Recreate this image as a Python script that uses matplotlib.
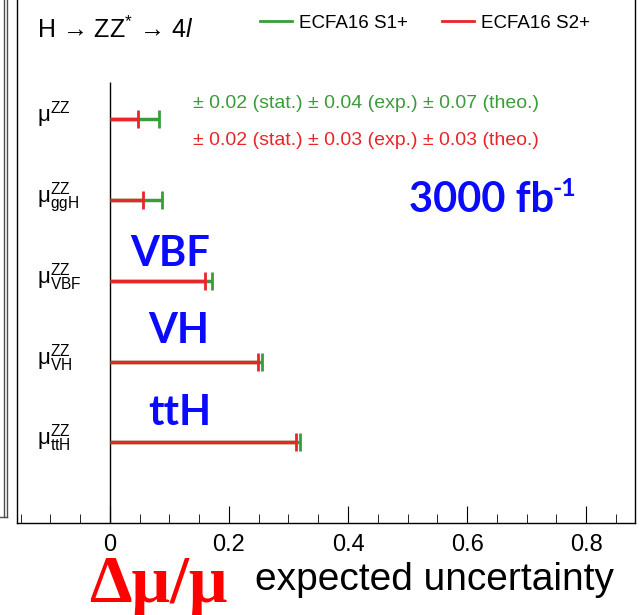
import numpy as np
import matplotlib
matplotlib.use('Agg')
from matplotlib import pyplot as plt
from matplotlib.lines import Line2D
from matplotlib.ticker import MultipleLocator

plt.rcParams['font.family'] = ['Liberation Sans', 'DejaVu Sans']
plt.rcParams['mathtext.fontset'] = 'custom'
plt.rcParams['mathtext.rm'] = 'Liberation Sans'
plt.rcParams['mathtext.it'] = 'Liberation Sans:italic'
plt.rcParams['mathtext.default'] = 'regular'

# data
channels = ['', 'ggH', 'VBF', 'VH', 'ttH']
s1_unc = [0.083, 0.088, 0.171, 0.256, 0.319]   # ECFA16 S1+
s2_unc = [0.047, 0.055, 0.160, 0.249, 0.313]   # ECFA16 S2+
s1_text = '± 0.02 (stat.) ± 0.04 (exp.) ± 0.07 (theo.)'
s2_text = '± 0.02 (stat.) ± 0.03 (exp.) ± 0.03 (theo.)'
xticks = [0, 0.2, 0.4, 0.6, 0.8]
xticklabels = ['0', '0.2', '0.4', '0.6', '0.8']

green = '#3a9c3a'
red = '#e8262a'
blue = '#0a0aff'

fig = plt.figure(figsize=(6.41, 6.15), dpi=100)
ax = fig.add_axes([17 / 641, 1 - 523 / 615, (635 - 17) / 641, 523 / 615])

ypos = np.arange(len(channels), 0, -1)
ax.set_xlim(-0.156, 0.882)
ax.set_ylim(0, 6.48)
ax.vlines(0, 0, 5.47, color='black', lw=1)

for y, g, r in zip(ypos, s1_unc, s2_unc):
    ax.plot([0, g], [y, y], color=green, lw=2.5, solid_capstyle='butt')
    ax.plot([g], [y], marker='|', ms=13, mew=2, color=green)
    ax.plot([0, r], [y, y], color=red, lw=2.5, solid_capstyle='butt')
    ax.plot([r], [y], marker='|', ms=13, mew=2, color=red)

# row labels
for y, ch in zip(ypos, channels):
    if ch:
        lab = r'$\mu^{ZZ}_{%s}$' % ch
    else:
        lab = r'$\mu^{ZZ}$'
    ax.text(-0.123, y - 0.03, lab, ha='left', va='baseline', fontsize=16)

ax.text(0.139, 5.20, s1_text, color=green, fontsize=14, va='center')
ax.text(0.139, 4.74, s2_text, color=red, fontsize=14, va='center')

# blue annotations
t = ax.text(0.503, 3.85, '3000 fb', color=blue, fontsize=30,
            fontfamily='Lato', fontweight='bold', va='baseline')
ax.annotate('-1', xy=(1, 1), xycoords=t, xytext=(-1, 3), textcoords='offset points',
            color=blue, fontsize=18, fontfamily='Lato', fontweight='bold',
            ha='left', va='top')
ax.text(0.034, 3.19, 'VBF', color=blue, fontsize=30,
        fontfamily='Lato', fontweight='bold', va='baseline')
ax.text(0.064, 2.23, 'VH', color=blue, fontsize=30,
        fontfamily='Lato', fontweight='bold', va='baseline')
ax.text(0.064, 1.21, 'ttH', color=blue, fontsize=30,
        fontfamily='Lato', fontweight='bold', va='baseline')

# axes style
ax.set_xticks(xticks)
ax.set_xticklabels(xticklabels, fontsize=17)
ax.xaxis.set_minor_locator(MultipleLocator(0.05))
ax.tick_params(axis='x', which='major', direction='in', length=12, pad=8)
ax.tick_params(axis='x', which='minor', direction='in', length=6.5)
ax.set_yticks([])
ax.spines['top'].set_visible(False)
for s in ['left', 'right', 'bottom']:
    ax.spines[s].set_linewidth(1)

# legend and title
fig.text(37 / 641, 1 - 38 / 615, r'H → ZZ$^{*}$ → 4$\mathit{l}$',
         fontsize=18, va='baseline', ha='left')
handles = [Line2D([], [], color=green, lw=2), Line2D([], [], color=red, lw=2)]
ax.legend(handles, ['ECFA16 S1+', 'ECFA16 S2+'], ncol=2, loc='center left',
          bbox_to_anchor=(260 / 641, 1 - 23 / 615), bbox_transform=fig.transFigure,
          frameon=False, fontsize=13.5, borderpad=0, borderaxespad=0,
          handlelength=1.7, handletextpad=0.37, columnspacing=1.85)

# x-axis title
fig.text(89 / 641, 1 - 602 / 615, 'Δμ/μ', color='#ff0000', fontsize=49,
         fontfamily='Liberation Serif', fontweight='bold', va='baseline')
fig.text(255 / 641, 1 - 590 / 615, 'expected uncertainty', fontsize=28,
         va='baseline')

# leftover frame of the neighbouring panel
fig.add_artist(Line2D([4 / 641, 4 / 641], [1, 1 - 517 / 615], color='0.3', lw=1))
fig.add_artist(Line2D([7 / 641, 7 / 641], [1, 1 - 517 / 615], color='0.3', lw=1))
fig.add_artist(Line2D([0, 7 / 641], [1 - 517 / 615, 1 - 517 / 615], color='0.3', lw=1))

fig.savefig('out.png', dpi=100)
